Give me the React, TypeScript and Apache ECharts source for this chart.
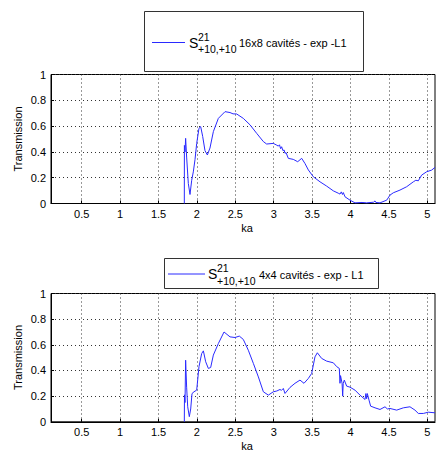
import React, { useEffect, useRef } from "react";
import * as echarts from "echarts";

const xTicks = [0.5, 1, 1.5, 2, 2.5, 3, 3.5, 4, 4.5, 5];

const kaTop = [
  1.836, 1.837, 1.845, 1.853, 1.866, 1.888, 1.91, 1.932, 1.953, 1.975, 1.997, 2.027, 2.049, 2.075, 2.105,
  2.136, 2.17, 2.214, 2.279, 2.366, 2.431, 2.47, 2.518, 2.604, 2.691, 2.778, 2.865, 2.908, 2.995, 3.04,
  3.06, 3.075, 3.09, 3.103, 3.12, 3.135, 3.147, 3.16, 3.19, 3.255, 3.312, 3.364, 3.407, 3.451, 3.516,
  3.603, 3.689, 3.776, 3.84, 3.863, 3.88, 3.895, 3.906, 3.928, 3.993, 4.058, 4.15, 4.21, 4.3, 4.319,
  4.33, 4.384, 4.471, 4.514, 4.557, 4.644, 4.731, 4.818, 4.85, 4.883, 4.926, 4.991, 5.057, 5.1,
];
const tTop = [
  0, 0.45, 0.4, 0.505, 0.36, 0.155, 0.07, 0.18, 0.245, 0.34, 0.466, 0.583, 0.596, 0.52, 0.41,
  0.376, 0.43, 0.557, 0.66, 0.712, 0.705, 0.695, 0.694, 0.66, 0.61, 0.544, 0.48, 0.461, 0.466, 0.452,
  0.445, 0.455, 0.425, 0.44, 0.41, 0.415, 0.389, 0.395, 0.35, 0.342, 0.324, 0.35, 0.31, 0.26, 0.207,
  0.168, 0.135, 0.098, 0.08, 0.073, 0.09, 0.07, 0.085, 0.052, 0.026, 0.005, 0.008, 0.005, 0.01, 0.02,
  0.008, 0.005, 0.026, 0.065, 0.083, 0.104, 0.13, 0.168, 0.18, 0.176, 0.22, 0.246, 0.259, 0.28,
];

const kaBot = [
  1.836, 1.838, 1.845, 1.853, 1.858, 1.866, 1.88, 1.901, 1.919, 1.936, 1.962, 1.997, 2.027, 2.062, 2.084,
  2.114, 2.149, 2.179, 2.214, 2.279, 2.353, 2.431, 2.496, 2.552, 2.604, 2.669, 2.735, 2.8, 2.865, 2.93,
  2.995, 3.04, 3.082, 3.1, 3.125, 3.147, 3.212, 3.277, 3.342, 3.394, 3.451, 3.494, 3.537, 3.568, 3.624,
  3.689, 3.776, 3.82, 3.854, 3.863, 3.87, 3.876, 3.89, 3.898, 3.905, 3.919, 3.95, 3.993, 4.058, 4.123,
  4.189, 4.2, 4.21, 4.219, 4.241, 4.262, 4.319, 4.384, 4.449, 4.48, 4.514, 4.601, 4.688, 4.774, 4.839,
  4.883, 4.948, 5.013, 5.1,
];
const tBot = [
  0, 0.21, 0.15, 0.48, 0.4, 0.27, 0.117, 0.04, 0.1, 0.22, 0.234, 0.247, 0.43, 0.532, 0.553,
  0.468, 0.416, 0.423, 0.52, 0.61, 0.7, 0.662, 0.657, 0.668, 0.642, 0.558, 0.455, 0.35, 0.234, 0.208,
  0.234, 0.24, 0.252, 0.245, 0.26, 0.221, 0.268, 0.3, 0.325, 0.3, 0.338, 0.377, 0.506, 0.538, 0.494,
  0.473, 0.46, 0.43, 0.416, 0.3, 0.36, 0.364, 0.3, 0.2, 0.3, 0.325, 0.278, 0.27, 0.247, 0.208,
  0.174, 0.22, 0.18, 0.22, 0.169, 0.122, 0.109, 0.096, 0.117, 0.1, 0.104, 0.091, 0.109, 0.117, 0.091,
  0.065, 0.065, 0.075, 0.07,
];

const FONT = "'Liberation Sans', Arial, Helvetica, sans-serif";
const BLUE = "#2a2aff";

function xAxisDef(gridIndex: number) {
  return {
    type: "value",
    gridIndex,
    min: 0.1,
    max: 5.1,
    axisLine: { show: true, lineStyle: { color: "#000", width: 1 } },
    axisTick: { show: true, inside: true, length: 3, customValues: xTicks, lineStyle: { color: "#000" } },
    axisLabel: { customValues: xTicks, color: "#000", fontSize: 11, fontFamily: FONT, margin: 5 },
    splitLine: { show: true, lineStyle: { color: "#333", type: [1, 3], width: 1 } },
  };
}
function yAxisDef(gridIndex: number) {
  return {
    type: "value",
    gridIndex,
    min: 0,
    max: 1,
    interval: 0.2,
    axisLine: { show: true, lineStyle: { color: "#000", width: 1 } },
    axisTick: { show: true, inside: true, length: 3, lineStyle: { color: "#000" } },
    axisLabel: { color: "#000", fontSize: 11, fontFamily: FONT, margin: 5 },
    splitLine: { show: true, lineStyle: { color: "#333", type: [1, 3], width: 1 } },
  };
}

function legendGroup(
  box: [number, number, number, number],
  line: [number, number, number],
  sX: number,
  supX: number,
  cy: number,
  rest: string,
  restX: number
) {
  return [
    {
      type: "rect",
      shape: { x: box[0] + 0.5, y: box[1] + 0.5, width: box[2], height: box[3] },
      style: { fill: "#fff", stroke: "#333", lineWidth: 1 },
      z: 10,
    },
    {
      type: "line",
      shape: { x1: line[0], y1: line[2], x2: line[1], y2: line[2] },
      style: { stroke: BLUE, lineWidth: 1 },
      z: 11,
    },
    {
      type: "text",
      x: sX,
      y: cy,
      style: { text: "S", fontSize: 14, fontFamily: FONT, fill: "#000", textAlign: "left", textVerticalAlign: "middle" },
      z: 11,
    },
    {
      type: "text",
      x: supX,
      y: cy - 6,
      style: { text: "21", fontSize: 10.5, fontFamily: FONT, fill: "#000", textAlign: "left", textVerticalAlign: "middle" },
      z: 11,
    },
    {
      type: "text",
      x: supX,
      y: cy + 6.5,
      style: { text: "+10,+10", fontSize: 10.5, fontFamily: FONT, fill: "#000", textAlign: "left", textVerticalAlign: "middle" },
      z: 11,
    },
    {
      type: "text",
      x: restX,
      y: cy + 0.5,
      style: { text: rest, fontSize: 11, fontFamily: FONT, fill: "#000", textAlign: "left", textVerticalAlign: "middle" },
      z: 11,
    },
  ];
}

export default function App() {
  const ref = useRef<HTMLDivElement>(null);
  useEffect(() => {
    if (!ref.current) return;
    const chart = echarts.init(ref.current, undefined, { renderer: "svg" });
    const topData = kaTop.map((k, i) => [k, tTop[i]]);
    const botData = kaBot.map((k, i) => [k, tBot[i]]);
    chart.setOption({
      animation: false,
      backgroundColor: "#fff",
      textStyle: { fontFamily: FONT },
      grid: [
        { left: 51, top: 74.5, width: 384, height: 129, show: true, borderColor: "#000", borderWidth: 1 },
        { left: 51, top: 293.5, width: 384, height: 128.3, show: true, borderColor: "#000", borderWidth: 1 },
      ],
      xAxis: [xAxisDef(0), xAxisDef(1)],
      yAxis: [yAxisDef(0), yAxisDef(1)],
      series: [
        {
          type: "line",
          xAxisIndex: 0,
          yAxisIndex: 0,
          data: topData,
          showSymbol: false,
          lineStyle: { color: BLUE, width: 1 },
          clip: true,
        },
        {
          type: "line",
          xAxisIndex: 1,
          yAxisIndex: 1,
          data: botData,
          showSymbol: false,
          lineStyle: { color: BLUE, width: 1 },
          clip: true,
        },
      ],
      graphic: [
        ...legendGroup([144, 11, 219, 60], [152, 185, 42.5], 189, 198, 42.5, "16x8 cavités - exp -L1", 239),
        ...legendGroup([164, 258, 214, 30], [168, 205, 274], 208, 217, 274, "4x4 cavités - exp - L1", 259),
        {
          type: "text",
          x: 247,
          y: 228,
          style: { text: "ka", fontSize: 11, fontFamily: FONT, fill: "#000", textAlign: "center", textVerticalAlign: "middle" },
        },
        {
          type: "text",
          x: 247,
          y: 446,
          style: { text: "ka", fontSize: 11, fontFamily: FONT, fill: "#000", textAlign: "center", textVerticalAlign: "middle" },
        },
        {
          type: "text",
          x: 18,
          y: 139,
          rotation: Math.PI / 2,
          style: { text: "Transmission", fontSize: 11, fontFamily: FONT, fill: "#000", textAlign: "center", textVerticalAlign: "middle" },
        },
        {
          type: "text",
          x: 18,
          y: 357.5,
          rotation: Math.PI / 2,
          style: { text: "Transmission", fontSize: 11, fontFamily: FONT, fill: "#000", textAlign: "center", textVerticalAlign: "middle" },
        },
      ],
    });
    return () => chart.dispose();
  }, []);
  return (
    <div
      ref={ref}
      style={{ position: "absolute", left: 0, top: 0, width: 436, height: 451 }}
    />
  );
}
